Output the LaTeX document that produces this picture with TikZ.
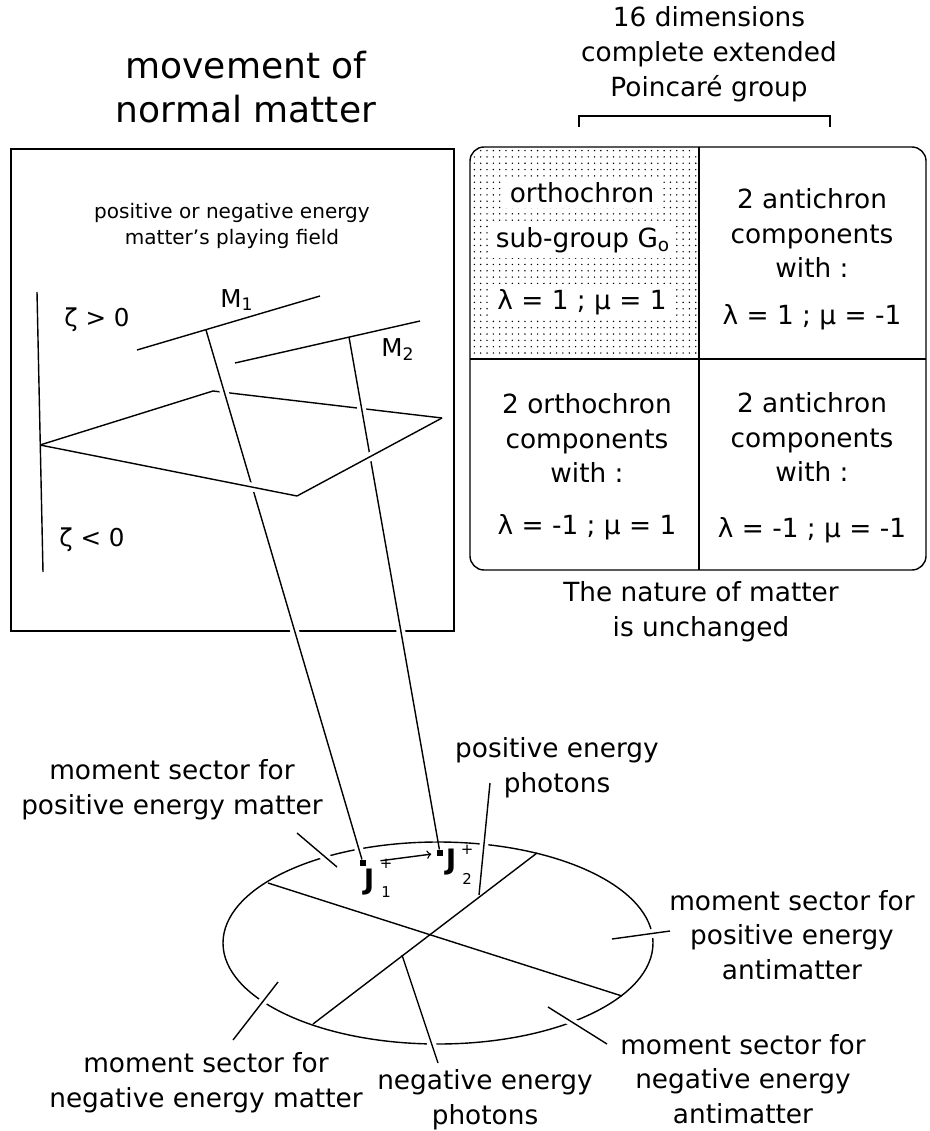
\documentclass[tikz,border=0pt]{standalone}
\usepackage{fontspec}
\setmainfont{DejaVu Sans}
\usetikzlibrary{patterns.meta}

\tikzset{
  txt/.style={font=\fontsize{15}{19.8}\selectfont, align=center, inner sep=1pt},
  smalltxt/.style={font=\fontsize{11.4}{15.3}\selectfont, align=center, inner sep=1pt},
  titletxt/.style={font=\fontsize{20.5}{24.6}\selectfont, align=center, inner sep=1pt},
  symtxt/.style={font=\fontsize{14}{16}\selectfont, inner sep=1pt},
  jtxt/.style={font=\fontsize{16}{18}\selectfont\bfseries, inner sep=0pt},
  jidx/.style={font=\fontsize{8.5}{9}\selectfont, inner sep=0pt},
  cellbg/.style={txt, fill=white, inner sep=3pt},
  dot/.style={rectangle, fill, inner sep=0pt, minimum size=3.2pt},
  halo/.style={preaction={draw, white, line width=5pt,
    shorten <=#1, shorten >=#1}},
  halo/.default=5pt
}

\begin{document}
\begin{tikzpicture}[
    x=0.02cm,
    y=-0.02cm,
    >=to,
    line width=0.8pt
  ]
  \useasboundingbox (0,0) rectangle (929,1131);

  % title and playing field
  \node[titletxt] (title) at (246,87) {movement of\\normal matter};
  \draw[line width=1pt] (11,149) rectangle (454,631);
  \node[smalltxt] (field) at (232,226) {positive or negative energy\\matter's playing field};

  \coordinate (zt) at (37,292);
  \coordinate (zb) at (43,572);
  \draw (zt) -- (zb);
  \node[symtxt] (zpos) at (97,320) {ζ > 0};
  \node[symtxt] (zneg) at (92,540) {ζ < 0};

  \coordinate (m1w) at (137,350);
  \coordinate (m1e) at (320,296);
  \coordinate (m2w) at (235,363);
  \coordinate (m2e) at (420,321);
  \draw (m1w) -- (m1e);
  \draw (m2w) -- (m2e);
  \node[symtxt] (m1) at (237,300) {M\textsubscript{1}};
  \node[symtxt] (m2) at (398,350) {M\textsubscript{2}};
  \coordinate (m1f) at (206,330);
  \coordinate (m2f) at (349,337);

  % plane
  \coordinate (pl) at (40,445);
  \coordinate (pt) at (213,391);
  \coordinate (pr) at (442,418);
  \coordinate (pb) at (297,496);
  \draw (pl) -- (pt) -- (pr);

  % moment ellipse
  \coordinate (ec) at (438,943);
  \draw (ec) ellipse [x radius=215, y radius=101];
  \coordinate (d1a) at (268,883);
  \coordinate (d1b) at (622,996);
  \coordinate (d2a) at (537,853);
  \coordinate (d2b) at (313,1024);
  \draw (d1a) -- (d1b);
  \draw (d2a) -- (d2b);

  % moments
  \node[dot] (j1) at (363,863) {};
  \node[dot] (j2) at (440,853) {};
  \node[jtxt] (j1lab) at (369,882) {J};
  \node[jidx] (j1sup) at (386,864) {+};
  \node[jidx] (j1sub) at (386,892) {1};
  \node[jtxt] (j2lab) at (451,862) {J};
  \node[jidx] (j2sup) at (467,850) {+};
  \node[jidx] (j2sub) at (467,879) {2};
  \draw[halo] (m1f) -- (j1);
  \draw[halo] (m2f) -- (j2);
  \draw[->, shorten <=8pt, shorten >=3pt] (j1) -- (j2);

  \draw[halo=6pt] (pl) -- (pb);
  \draw[halo=6pt] (pb) -- (pr);

  % sector labels
  \coordinate (pm1) at (297,833);
  \coordinate (pm2) at (337,867);
  \coordinate (nm1) at (233,1040);
  \coordinate (nm2) at (278,982);
  \coordinate (pp1) at (490,783);
  \coordinate (pp2) at (479,895);
  \coordinate (np1) at (438,1063);
  \coordinate (np2) at (402,955);
  \coordinate (pa1) at (670,931);
  \coordinate (pa2) at (612,939);
  \coordinate (na1) at (607,1044);
  \coordinate (na2) at (548,1007);
  \foreach \a/\b in {pm1/pm2, nm1/nm2, pp1/pp2, np1/np2, pa1/pa2, na1/na2}
    \draw[halo=3pt] (\a) -- (\b);

  \node[txt] (posmat) at (172,790) {moment sector for\\positive energy matter};
  \node[txt] (negmat) at (206,1083) {moment sector for\\negative energy matter};
  \node[txt] (posph) at (557,768) {positive energy\\photons};
  \node[txt] (negph) at (485,1100) {negative energy\\photons};
  \node[txt] (posanti) at (792,935) {moment sector for\\positive energy\\antimatter};
  \node[txt] (neganti) at (743,1079) {moment sector for\\negative energy\\antimatter};

  % Poincare group table
  \node[txt] (dims) at (709,54) {16 dimensions\\complete extended\\Poincaré group};
  \draw (579,127) -- (579,116) -- (830,116) -- (830,127);

  \fill[pattern={Dots[distance=3.6pt, radius=0.45pt]}, rounded corners=8]
    (470,359) -- (470,147) -- (699,147) [sharp corners] -- (699,359) -- cycle;
  \draw[rounded corners=8] (470,147) rectangle (926,570);
  \draw (699,147) -- (699,570);
  \draw (470,359) -- (926,359);

  \node[cellbg] (ortho) at (582,193) {orthochron};
  \node[cellbg] (subgrp) at (583,240) {sub-group G\textsubscript{o}};
  \node[cellbg] (orthoval) at (582,302) {λ = 1 ;  μ = 1};

  \node[txt] (anti1) at (812,233) {2 antichron\\components\\with :};
  \node[txt] (anti1val) at (812,317) {λ = 1 ;  μ  = -1};
  \node[txt] (ortho2) at (587,438) {2 orthochron\\components\\with :};
  \node[txt] (ortho2val) at (587,527) {λ = -1 ;  μ = 1};
  \node[txt] (anti2) at (812,437) {2 antichron\\components\\with :};
  \node[txt] (anti2val) at (812,530) {λ = -1 ;  μ = -1};

  \node[txt] (nature) at (701,612) {The nature of matter\\is unchanged};
\end{tikzpicture}
\end{document}
